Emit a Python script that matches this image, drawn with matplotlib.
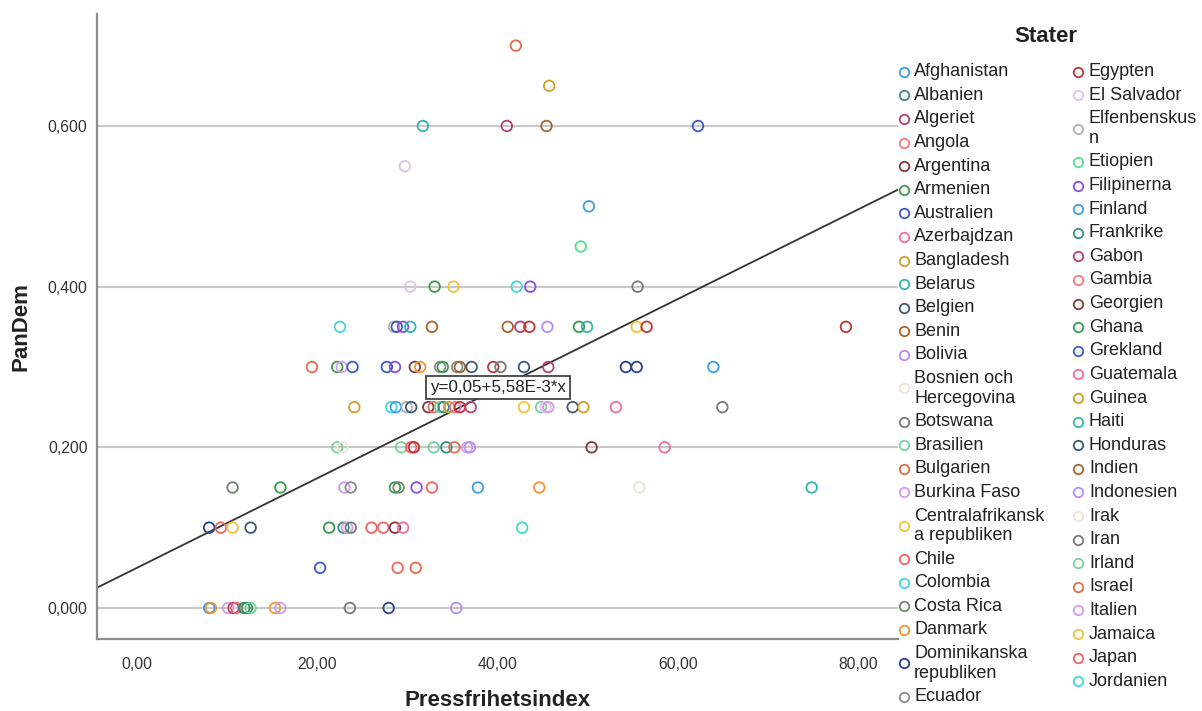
import numpy as np
import matplotlib
matplotlib.use("Agg")
import matplotlib.pyplot as plt
from matplotlib.ticker import FuncFormatter, FixedLocator

plt.rcParams['font.family'] = ['Liberation Sans', 'DejaVu Sans']

# ---------------- data ----------------
# x = Pressfrihetsindex, y = PanDem, c = palette index of the country (Stater)
pressfrihet = [
    42.0,
    45.7,
    31.7, 41.0, 45.4, 62.2,
    29.7,
    50.1,
    49.2,
    30.3, 33.0, 35.1, 42.1, 43.6, 55.5,
    22.5, 28.5, 28.8, 29.5, 30.3, 32.7, 41.1, 42.5, 43.5, 45.5, 49.0, 49.9, 55.4, 56.5, 78.6,
    19.4, 22.2, 22.7, 23.9, 27.7, 28.6, 30.8, 31.4, 33.6, 33.9, 35.5, 35.8, 37.1, 39.5, 40.3,
    42.9, 45.6, 54.2, 55.4, 63.9,
    24.1, 28.2, 28.7, 29.9, 30.4, 32.3, 32.9, 33.6, 34.0, 34.6, 35.3, 35.8, 37.0, 42.9, 44.8,
    45.3, 45.6, 48.3, 49.5, 53.1, 64.9,
    22.2, 22.8, 29.3, 30.4, 30.7, 32.9, 34.3, 35.2, 36.6, 36.9, 50.4, 58.5,
    10.6, 15.9, 23.0, 23.7, 28.6, 29.0, 31.0, 32.7, 37.8, 44.6, 55.7, 74.8,
    8.0, 9.3, 10.6, 12.6, 21.3, 22.9, 23.3, 23.7, 26.0, 27.3, 28.6, 29.5, 42.7,
    20.3, 28.9, 30.9,
    8.0, 8.2, 10.1, 10.7, 11.0, 11.9, 12.2, 12.6, 15.3, 15.9, 23.6, 27.9, 35.4,
]
pandem = (
    [0.70] * 1 + [0.65] * 1 + [0.60] * 4 + [0.55] * 1 + [0.50] * 1 + [0.45] * 1 +
    [0.40] * 6 + [0.35] * 15 + [0.30] * 20 + [0.25] * 21 + [0.20] * 12 +
    [0.15] * 12 + [0.10] * 13 + [0.05] * 3 + [0.00] * 13
)
fargindex = [
    16,
    8,
    9, 2, 11, 6,
    26,
    0,
    28,
    26, 5, 18, 20, 29, 14,
    20, 27, 6, 29, 9, 11, 11, 2, 25, 12, 5, 9, 18, 25, 25,
    16, 5, 17, 6, 6, 29, 4, 22, 24, 5, 24, 11, 10, 25, 14,
    10, 2, 23, 23, 0,
    8, 20, 0, 27, 10, 4, 19, 15, 1, 8, 7, 25, 2, 18, 15,
    26, 17, 10, 8, 7, 14,
    15, 13, 15, 19, 25, 15, 1, 16, 17, 12, 4, 7,
    21, 5, 17, 24, 5, 21, 29, 19, 0, 22, 13, 9,
    23, 19, 18, 10, 5, 1, 17, 14, 19, 19, 4, 7, 20,
    6, 19, 16,
    0, 22, 17, 2, 19, 1, 5, 15, 22, 17, 14, 23, 12,
]

# regression line from the chart annotation
intercept = 0.05
slope = 5.58e-3

stater = [
    "Afghanistan", "Albanien", "Algeriet", "Angola", "Argentina", "Armenien",
    "Australien", "Azerbajdzan", "Bangladesh", "Belarus", "Belgien", "Benin",
    "Bolivia", "Bosnien och\nHercegovina", "Botswana", "Brasilien", "Bulgarien",
    "Burkina Faso", "Centralafrikansk\na republiken", "Chile", "Colombia",
    "Costa Rica", "Danmark", "Dominikanska\nrepubliken", "Ecuador",
    "Egypten", "El Salvador", "Elfenbenskus\nn", "Etiopien", "Filipinerna",
    "Finland", "Frankrike", "Gabon", "Gambia", "Georgien", "Ghana", "Grekland",
    "Guatemala", "Guinea", "Haiti", "Honduras", "Indien", "Indonesien", "Irak",
    "Iran", "Irland", "Israel", "Italien", "Jamaica", "Japan", "Jordanien",
]

palette = [
    "#3e9fe8", "#3b8c84", "#b5417a", "#f57a7a", "#873838", "#3a9b4e",
    "#3d5bc6", "#f0709e", "#cfa230", "#35b5ae", "#3c5a78", "#a8642e",
    "#b98cf5", "#ebe7d3", "#7a7a7a", "#76d39a", "#e06c4c", "#d69be5",
    "#edc63a", "#ef6666", "#45d5de", "#70896a", "#ee9835", "#2e3f8f",
    "#8c8c8c", "#c23535", "#dcc4f0", "#b4b4b4", "#55e08a", "#8a4fe0",
]

# ---------------- figure ----------------
W, H = 1202, 711
fig = plt.figure(figsize=(W / 100, H / 100), dpi=100)
fig.patch.set_facecolor("white")

ax_l, ax_r, ax_t, ax_b = 97.3, 898, 14, 639
ax = fig.add_axes([ax_l / W, 1 - ax_b / H, (ax_r - ax_l) / W, (ax_b - ax_t) / H])

x_min, x_max = -4.40, 84.37
y_min, y_max = -0.0386, 0.7394
ax.set_xlim(x_min, x_max)
ax.set_ylim(y_min, y_max)

for s in ["top", "right"]:
    ax.spines[s].set_visible(False)
for s in ["left", "bottom"]:
    ax.spines[s].set_color("#8c8c8c")
    ax.spines[s].set_linewidth(1.6)

ax.yaxis.set_major_locator(FixedLocator([0.0, 0.2, 0.4, 0.6]))
ax.xaxis.set_major_locator(FixedLocator([0, 20, 40, 60, 80]))
ax.yaxis.set_major_formatter(FuncFormatter(lambda v, p: f"{v:.3f}".replace(".", ",")))
ax.xaxis.set_major_formatter(FuncFormatter(lambda v, p: f"{v:.2f}".replace(".", ",")))
ax.tick_params(axis="both", length=0, labelsize=11.3, labelcolor="#333333")
ax.tick_params(axis="y", pad=7)
ax.tick_params(axis="x", pad=13)

ax.grid(axis="y", color="#c8c8c8", linewidth=1.5)
ax.set_axisbelow(True)

# regression line
xs = np.array([x_min, x_max])
ax.plot(xs, intercept + slope * xs, color="#333333", linewidth=1.3, zorder=2)

# scatter points
cols = [palette[i % len(palette)] for i in fargindex]
ax.scatter(pressfrihet, pandem, s=58, facecolors="none", edgecolors=cols,
           linewidths=1.3, zorder=3, clip_on=False)

# equation annotation
ax.text(40.0, 0.2745, "y=0,05+5,58E-3*x", fontsize=12.2, color="#222222",
        ha="center", va="center", zorder=5,
        bbox=dict(boxstyle="square,pad=0.25", facecolor="white",
                  edgecolor="#444444", linewidth=1.3))

ax.set_xlabel("Pressfrihetsindex", fontsize=16, fontweight="bold",
              color="#222222", labelpad=13)
ax.set_ylabel("PanDem", fontsize=16, fontweight="bold", color="#222222",
              labelpad=12)

# ---------------- legend (Stater) ----------------
lax = fig.add_axes([0, 0, 1, 1])
lax.set_xlim(0, W)
lax.set_ylim(H, 0)
lax.axis("off")
lax.patch.set_alpha(0)

lax.text(1046, 37, "Stater", fontsize=16, fontweight="bold", color="#222222",
         ha="center", va="center")

row_h = 23.6
wrap_h = 19.5
col_split = 25
columns = [(stater[:col_split], 0, 904, 914), (stater[col_split:], col_split, 1078, 1089)]
for names, offset, mx, tx in columns:
    cursor = 71.7
    for k, name in enumerate(names):
        lines = name.split("\n")
        extra = wrap_h * (len(lines) - 1)
        my = cursor + extra / 2
        lax.plot([mx], [my], marker="o", markersize=6.8, markerfacecolor="none",
                 markeredgecolor=palette[(offset + k) % len(palette)],
                 markeredgewidth=1.3, linestyle="none", clip_on=False)
        for j, ln in enumerate(lines):
            lax.text(tx, cursor + j * wrap_h, ln, fontsize=13, color="#222222",
                     ha="left", va="center", clip_on=False)
        cursor += row_h + extra

fig.savefig("out.png", dpi=100, facecolor="white")
